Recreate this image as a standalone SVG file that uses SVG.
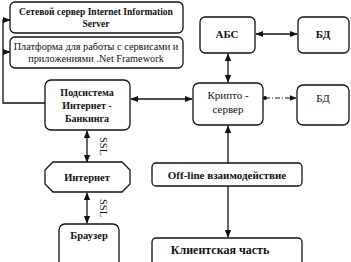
<svg xmlns="http://www.w3.org/2000/svg" width="351" height="262" viewBox="0 0 351 262">
<defs>
<style>
.box{fill:#fff;stroke:#111;stroke-width:1.3}
.t{font-family:"Liberation Serif","Times New Roman",serif;fill:#111;text-anchor:middle}
.b{font-weight:bold}
.ln{stroke:#111;stroke-width:1.3;fill:none}
.dash{stroke:#111;stroke-width:1.2;fill:none;stroke-dasharray:5 2 1 2}
</style>
<marker id="ah" viewBox="0 0 10 10" refX="9" refY="5" markerWidth="6" markerHeight="6" orient="auto-start-reverse">
<path d="M0,1 L10,5 L0,9 Z" fill="#111"/>
</marker>
<marker id="dot" viewBox="0 0 10 10" refX="5" refY="5" markerWidth="4" markerHeight="4">
<circle cx="5" cy="5" r="4" fill="#111"/>
</marker>
</defs>
<rect width="351" height="262" fill="#fff"/>
<g id="connectors">
<path class="ln" d="M45,103 H3 V20 H10" marker-end="url(#ah)"/>
<path class="ln" d="M3,52 H10" marker-end="url(#ah)"/>
<path class="ln" d="M256,34 H297" marker-start="url(#ah)" marker-end="url(#ah)"/>
<path class="ln" d="M228,54 V82" marker-start="url(#ah)" marker-end="url(#ah)"/>
<path class="ln" d="M131,99 H192" marker-start="url(#ah)" marker-end="url(#ah)"/>
<path class="dash" d="M265,98 H296" marker-start="url(#dot)" marker-end="url(#ah)"/>
<path class="ln" d="M228,163 V126" marker-end="url(#ah)"/>
<path class="ln" d="M228,186 V237" marker-end="url(#ah)"/>
<path class="ln" d="M87,131 V162" marker-start="url(#ah)" marker-end="url(#ah)"/>
<path class="ln" d="M87,193 V223" marker-start="url(#ah)" marker-end="url(#ah)"/>
<text class="t" font-size="10.5" transform="translate(100,146) rotate(90)">SSL</text>
<text class="t" font-size="10.5" transform="translate(100,208) rotate(90)">SSL</text>
</g>
<g id="iis">
<rect class="box" x="10" y="2" width="173" height="31" rx="5"/>
<text class="t b" font-size="9.5" x="96" y="15">Сетевой сервер Internet Information</text>
<text class="t b" font-size="9.5" x="96" y="27">Server</text>
</g>
<g id="netfw">
<rect class="box" x="10" y="37" width="173" height="31" rx="5"/>
<text class="t" font-size="10.3" x="96" y="50">Платформа для работы с сервисами и</text>
<text class="t" font-size="10.3" x="96" y="62">приложениями .Net Framework</text>
</g>
<g id="abs">
<rect class="box" x="200" y="17" width="55" height="36" rx="5"/>
<text class="t b" font-size="11" x="227" y="38">АБС</text>
</g>
<g id="bd1">
<rect class="box" x="298" y="17" width="51" height="36" rx="5"/>
<text class="t b" font-size="11" x="323" y="38">БД</text>
</g>
<g id="ib">
<rect class="box" x="45" y="80" width="85" height="50" rx="6"/>
<text class="t b" font-size="10" x="87" y="96">Подсистема</text>
<text class="t b" font-size="10" x="87" y="109">Интернет -</text>
<text class="t b" font-size="10" x="87" y="122">Банкинга</text>
</g>
<g id="crypto">
<rect class="box" x="193" y="83" width="70" height="42" rx="6"/>
<text class="t" font-size="11" x="228" y="99">Крипто -</text>
<text class="t" font-size="11" x="228" y="113">сервер</text>
</g>
<g id="bd2">
<rect class="box" x="297" y="85" width="52" height="40" rx="6"/>
<text class="t" font-size="11" x="323" y="102">БД</text>
</g>
<g id="internet">
<path class="box" d="M53,162 H122 L130,170 V184 L122,192 H53 L45,184 V170 Z"/>
<text class="t b" font-size="10.5" x="87" y="181">Интернет</text>
</g>
<g id="browser">
<rect class="box" x="59" y="224" width="60" height="45" rx="6"/>
<text class="t b" font-size="10.5" x="89" y="239">Браузер</text>
</g>
<g id="offline">
<rect class="box" x="152" y="163" width="150" height="23" rx="4"/>
<text class="t b" font-size="11" x="227" y="179">Off-line взаимодействие</text>
</g>
<g id="client">
<rect class="box" x="152" y="238" width="150" height="30" rx="4"/>
<text class="t b" font-size="12" x="220" y="254">Клиентская часть</text>
</g>
</svg>
